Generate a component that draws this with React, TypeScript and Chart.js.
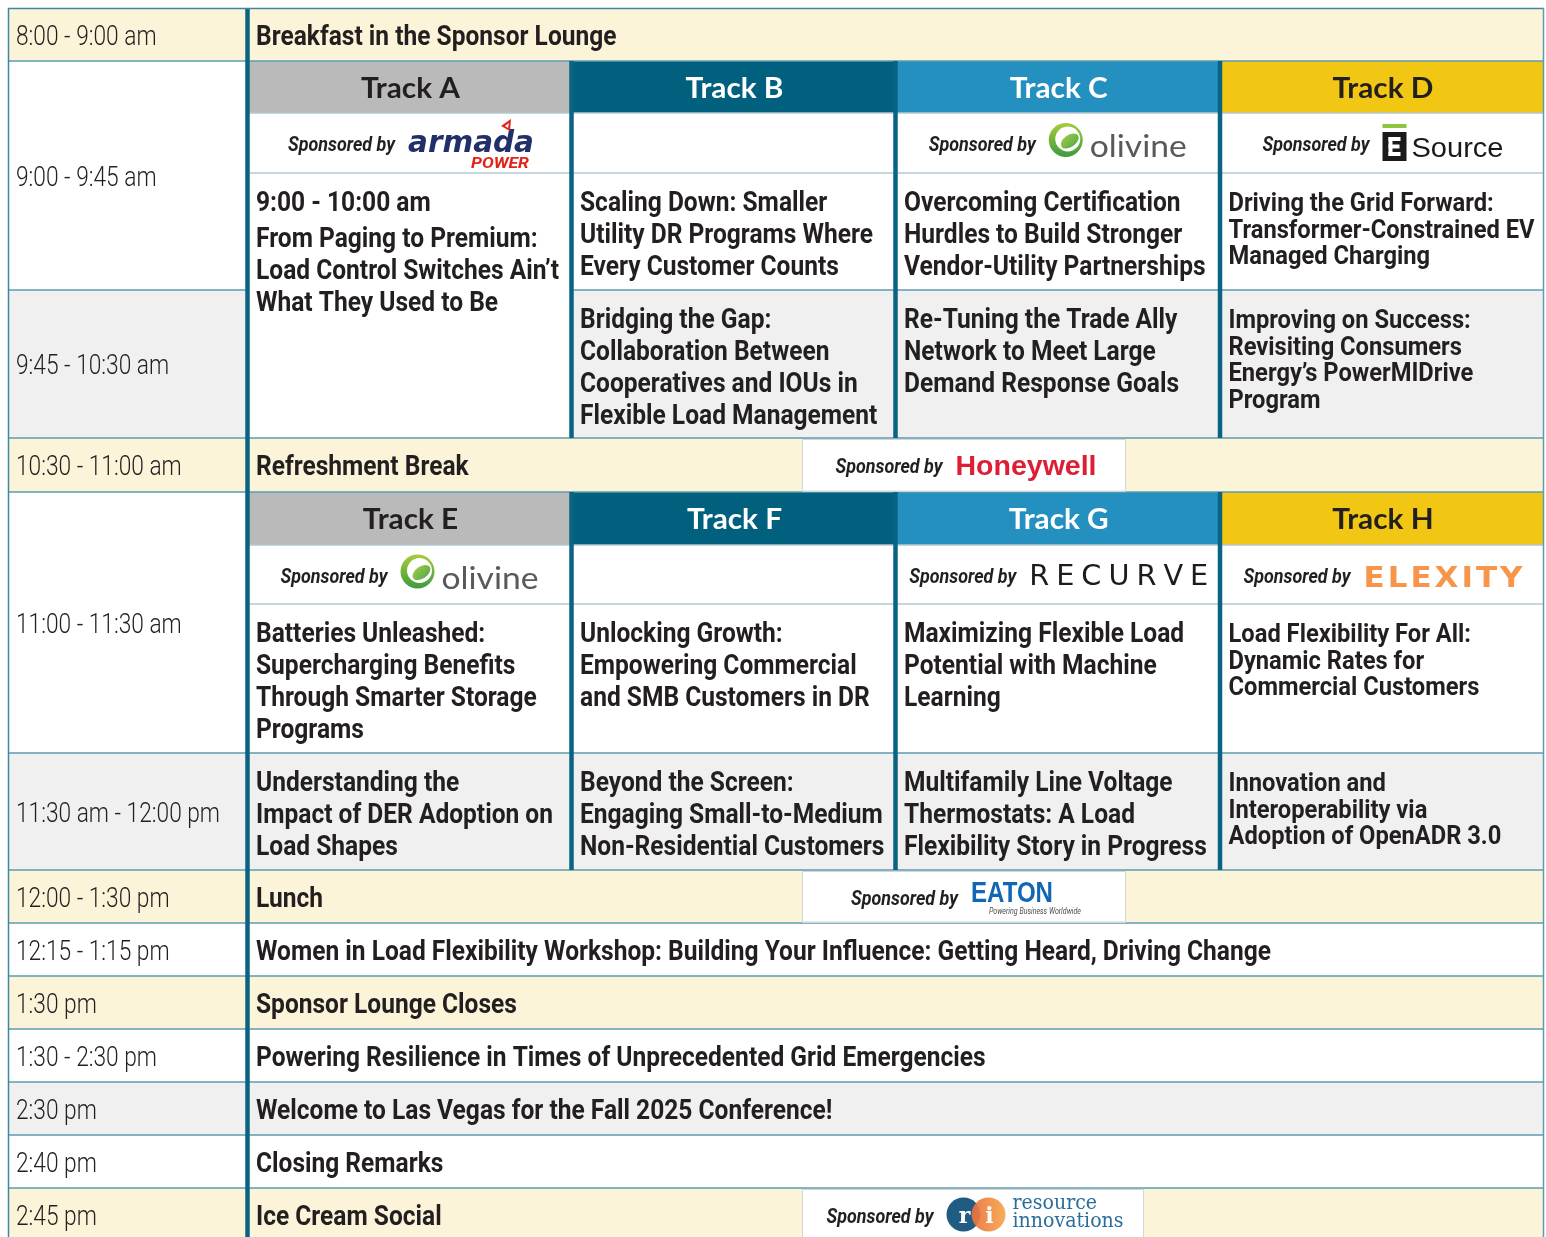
import React, { useEffect, useRef } from "react";
import { Chart, registerables } from "chart.js";
Chart.register(...registerables);

// ---------------- DATA ----------------
const timeLabels = [
  "8:00 - 9:00 am",
  "9:00 - 9:45 am",
  "9:45 - 10:30 am",
  "10:30 - 11:00 am",
  "11:00 - 11:30 am",
  "11:30 am - 12:00 pm",
  "12:00 - 1:30 pm",
  "12:15 - 1:15 pm",
  "1:30 pm",
  "1:30 - 2:30 pm",
  "2:30 pm",
  "2:40 pm",
  "2:45 pm",
];

const plenaryTitles = [
  "Breakfast in the Sponsor Lounge",
  "Refreshment Break",
  "Lunch",
  "Women in Load Flexibility Workshop: Building Your Influence: Getting Heard, Driving Change",
  "Sponsor Lounge Closes",
  "Powering Resilience in Times of Unprecedented Grid Emergencies",
  "Welcome to Las Vegas for the Fall 2025 Conference!",
  "Closing Remarks",
  "Ice Cream Social",
];
const plenarySponsors = [null, "honeywell", "eaton", null, null, null, null, null, "ri"];

const morningTracks = ["Track A", "Track B", "Track C", "Track D"];
const afternoonTracks = ["Track E", "Track F", "Track G", "Track H"];
const morningSponsors = ["armada", null, "olivine", "esource"];
const afternoonSponsors = ["olivine", null, "recurve", "elexity"];

const morningSessionTimes = ["9:00 - 10:00 am", null, null, null];
const morningSlot1 = [
  ["From Paging to Premium:", "Load Control Switches Ain\u2019t", "What They Used to Be"],
  ["Scaling Down: Smaller", "Utility DR Programs Where", "Every Customer Counts"],
  ["Overcoming Certification", "Hurdles to Build Stronger", "Vendor-Utility Partnerships"],
  ["Driving the Grid Forward:", "Transformer-Constrained EV", "Managed Charging"],
];
const morningSlot2 = [
  null,
  ["Bridging the Gap:", "Collaboration Between", "Cooperatives and IOUs in", "Flexible Load Management"],
  ["Re-Tuning the Trade Ally", "Network to Meet Large", "Demand Response Goals"],
  ["Improving on Success:", "Revisiting Consumers", "Energy\u2019s PowerMIDrive", "Program"],
];
const afternoonSessionTimes = [null, null, null, null];
const afternoonSlot1 = [
  ["Batteries Unleashed:", "Supercharging Benefits", "Through Smarter Storage", "Programs"],
  ["Unlocking Growth:", "Empowering Commercial", "and SMB Customers in DR"],
  ["Maximizing Flexible Load", "Potential with Machine", "Learning"],
  ["Load Flexibility For All:", "Dynamic Rates for", "Commercial Customers"],
];
const afternoonSlot2 = [
  ["Understanding the", "Impact of DER Adoption on", "Load Shapes"],
  ["Beyond the Screen:", "Engaging Small-to-Medium", "Non-Residential Customers"],
  ["Multifamily Line Voltage", "Thermostats: A Load", "Flexibility Story in Progress"],
  ["Innovation and", "Interoperability via", "Adoption of OpenADR 3.0"],
];

// ---------------- LAYOUT (scale units) ----------------
const ROW_EDGES = [8, 61, 113, 173, 290, 438, 492, 545, 604, 753, 870, 923, 976, 1029, 1082, 1135, 1188, 1241];
const COL_EDGES = [8, 247.5, 571.5, 895.5, 1220, 1544];
const timeSpans = [[0, 1], [1, 4], [4, 5], [5, 6], [6, 9], [9, 10], [10, 11], [11, 12], [12, 13], [13, 14], [14, 15], [15, 16], [16, 17]];
const timeFills = ["cream", "white", "gray", "cream", "white", "gray", "cream", "white", "cream", "white", "gray", "white", "cream"];
const plenaryRows = [0, 5, 10, 11, 12, 13, 14, 15, 16];
const plenaryFills = ["cream", "cream", "cream", "white", "cream", "white", "gray", "white", "cream"];
const plenaryBoxSpan: Record<string, number[]> = { honeywell: [802, 1126], eaton: [802, 1126], ri: [802, 1144] };
const trackBlocks = [
  { header: 1, names: morningTracks, sponsors: morningSponsors, times: morningSessionTimes, slot1: morningSlot1, slot2: morningSlot2 },
  { header: 6, names: afternoonTracks, sponsors: afternoonSponsors, times: afternoonSessionTimes, slot1: afternoonSlot1, slot2: afternoonSlot2 },
];
const tightColumn = [false, false, false, true];

const COLORS: Record<string, string> = {
  cream: "#fcf4d9",
  white: "#ffffff",
  gray: "#f0f0f0",
  text: "#231f20",
  thick: "#0b6384",
  line: "#5b9cb2",
  lightLine: "#b3c9d0",
  boxLine: "#d6d6d6",
};
const trackColors = ["#b9bab9", "#02607f", "#2390c0", "#f2c713"];
const trackTextColors = ["#231f20", "#ffffff", "#ffffff", "#231f20"];

type Style = { font: string; color: string; ref: string; w: number; sx?: number };
const STYLES: Record<string, Style> = {
  time: { font: "300 28px Roboto", color: COLORS.text, ref: "11:30 am - 12:00 pm", w: 204 },
  title: { font: "bold 28px Roboto", color: COLORS.text, ref: "Women in Load Flexibility Workshop: Building Your Influence: Getting Heard, Driving Change", w: 1015 },
  session: { font: "bold 28px Roboto", color: COLORS.text, ref: "Utility DR Programs Where", w: 293 },
  tight: { font: "bold 26px Roboto", color: COLORS.text, ref: "Transformer-Constrained EV", w: 306 },
  track: { font: "bold 29px Lato", color: COLORS.text, ref: "Track A", w: 99 },
  sponsored: { font: "italic bold 21px Roboto", color: COLORS.text, ref: "Sponsored by", w: 107 },
  armada: { font: "bold italic 31px 'DejaVu Sans'", color: "#22306a", ref: "armada", w: 126 },
  power: { font: "italic bold 14px Roboto", color: "#e2231a", ref: "POWER", w: 58 },
  olivine: { font: "400 30px Lato", color: "#58595b", ref: "olivine", w: 97 },
  source: { font: "400 28px 'Liberation Sans'", color: "#1a1a1a", ref: "Source", w: 92 },
  honeywell: { font: "bold 28px 'Liberation Sans'", color: "#dc1f35", ref: "Honeywell", w: 141 },
  eaton: { font: "bold 29px 'Liberation Sans'", color: "#1167b3", ref: "EATON", w: 82 },
  tagline: { font: "italic 9px Roboto", color: "#4d4d4d", ref: "Powering Business Worldwide", w: 92 },
  ri: { font: "400 21px 'DejaVu Serif'", color: "#2a6e99", ref: "innovations", w: 111 },
};
const LOGO_W: Record<string, number> = { armada: 125, olivine: 140, esource: 121, recurve: 179, elexity: 159, honeywell: 141, eaton: 110, ri: 177 };
const LOGO_GAP = 13;

// ---------------- DRAWING HELPERS ----------------
function calibrate(ctx: CanvasRenderingContext2D) {
  Object.values(STYLES).forEach((s) => {
    ctx.font = s.font;
    const m = ctx.measureText(s.ref).width;
    s.sx = m > 0 ? s.w / m : 1;
  });
}

function txt(ctx: CanvasRenderingContext2D, s: string, x: number, y: number, st: Style, align: CanvasTextAlign = "left", color?: string) {
  ctx.save();
  ctx.font = st.font;
  ctx.fillStyle = color || st.color;
  ctx.textBaseline = "alphabetic";
  ctx.textAlign = align;
  ctx.translate(x, y);
  ctx.scale(st.sx || 1, 1);
  ctx.fillText(s, 0, 0);
  ctx.restore();
}

// letters at natural advance, horizontally scaled to fill width with a fixed gap between them
function tracked(ctx: CanvasRenderingContext2D, s: string, x: number, y: number, width: number, font: string, color: string, gap: number) {
  ctx.save();
  ctx.font = font;
  ctx.fillStyle = color;
  ctx.textAlign = "left";
  ctx.textBaseline = "alphabetic";
  const ws = s.split("").map((c) => ctx.measureText(c).width);
  const total = ws.reduce((a, b) => a + b, 0);
  const sx = (width - gap * (s.length - 1)) / total;
  let cx = x;
  for (let i = 0; i < s.length; i++) {
    ctx.save();
    ctx.translate(cx, y);
    ctx.scale(sx, 1);
    ctx.fillText(s[i], 0, 0);
    ctx.restore();
    cx += ws[i] * sx + gap;
  }
  ctx.restore();
}

function drawLogo(ctx: CanvasRenderingContext2D, key: string, x: number, cy: number) {
  if (key === "armada") {
    txt(ctx, "armada", x, cy + 9, STYLES.armada);
    txt(ctx, "POWER", x + 121, cy + 25, STYLES.power, "right");
    ctx.fillStyle = "#e2231a";
    ctx.beginPath();
    ctx.moveTo(x + 93, cy - 17);
    ctx.lineTo(x + 103, cy - 24);
    ctx.lineTo(x + 102, cy - 12);
    ctx.closePath();
    ctx.fill();
    ctx.fillStyle = "#ffffff";
    ctx.beginPath();
    ctx.moveTo(x + 97, cy - 17);
    ctx.lineTo(x + 101, cy - 20);
    ctx.lineTo(x + 100, cy - 15);
    ctx.closePath();
    ctx.fill();
  } else if (key === "olivine") {
    const cx = x + 17, cyy = cy - 3, r = 17;
    const g = ctx.createLinearGradient(cx, cyy - r, cx, cyy + r);
    g.addColorStop(0, "#a5cd3a");
    g.addColorStop(1, "#3f9a3f");
    ctx.fillStyle = g;
    ctx.beginPath();
    ctx.arc(cx, cyy, r, 0, Math.PI * 2);
    ctx.fill();
    ctx.fillStyle = "#ffffff";
    ctx.beginPath();
    ctx.arc(cx + 2, cyy - 1, 12.5, 0, Math.PI * 2);
    ctx.fill();
    const g2 = ctx.createLinearGradient(cx - 8, cyy - 8, cx + 10, cyy + 10);
    g2.addColorStop(0, "#b7d84a");
    g2.addColorStop(1, "#4ea545");
    ctx.fillStyle = g2;
    ctx.beginPath();
    ctx.ellipse(cx + 4, cyy + 1, 10, 6, -0.6, 0, Math.PI * 2);
    ctx.fill();
    txt(ctx, "olivine", x + 41, cy + 14, STYLES.olivine);
  } else if (key === "esource") {
    ctx.fillStyle = "#8cc63f";
    ctx.fillRect(x, cy - 19, 24, 4);
    ctx.fillStyle = "#1a1a1a";
    ctx.fillRect(x, cy - 11, 24, 29);
    ctx.fillStyle = "#ffffff";
    ctx.fillRect(x + 6, cy - 6, 4, 19);
    ctx.fillRect(x + 6, cy - 6, 12, 4);
    ctx.fillRect(x + 6, cy + 1.5, 11, 4);
    ctx.fillRect(x + 6, cy + 9, 12, 4);
    txt(ctx, "Source", x + 29, cy + 14, STYLES.source);
  } else if (key === "recurve") {
    tracked(ctx, "RECURVE", x, cy + 10.5, 179, "400 28px 'DejaVu Sans'", "#1c1c1c", 7);
  } else if (key === "elexity") {
    tracked(ctx, "ELEXITY", x, cy + 12.5, 159, "bold 29px 'DejaVu Sans'", "#f7964a", 3);
  } else if (key === "honeywell") {
    txt(ctx, "Honeywell", x, cy + 10, STYLES.honeywell);
  } else if (key === "eaton") {
    txt(ctx, "EATON", x, cy + 5.5, STYLES.eaton);
    txt(ctx, "Powering Business Worldwide", x + 18, cy + 17, STYLES.tagline);
  } else if (key === "ri") {
    ctx.fillStyle = "#1f5b83";
    ctx.beginPath();
    ctx.arc(x + 17, cy, 17, 0, Math.PI * 2);
    ctx.fill();
    const g = ctx.createLinearGradient(x + 25, cy, x + 59, cy);
    g.addColorStop(0, "#e9703d");
    g.addColorStop(1, "#f6a64a");
    ctx.save();
    ctx.globalAlpha = 0.92;
    ctx.fillStyle = g;
    ctx.beginPath();
    ctx.arc(x + 42, cy, 17, 0, Math.PI * 2);
    ctx.fill();
    ctx.restore();
    ctx.save();
    ctx.font = "bold 22px 'DejaVu Serif'";
    ctx.fillStyle = "#ffffff";
    ctx.textAlign = "center";
    ctx.fillText("r", x + 18, cy + 8);
    ctx.fillText("i", x + 43, cy + 8);
    ctx.restore();
    txt(ctx, "resource", x + 66, cy - 6, STYLES.ri);
    txt(ctx, "innovations", x + 66, cy + 12, STYLES.ri);
  }
}

function drawSponsorGroup(ctx: CanvasRenderingContext2D, key: string, cx: number, cy: number) {
  const total = STYLES.sponsored.w + LOGO_GAP + LOGO_W[key];
  const x0 = cx - total / 2;
  txt(ctx, "Sponsored by", x0, cy + 8, STYLES.sponsored);
  drawLogo(ctx, key, x0 + STYLES.sponsored.w + LOGO_GAP, cy);
}

// ---------------- PLUGIN ----------------
const schedulePlugin = {
  id: "schedule",
  afterDraw(chart: any) {
    const { ctx, scales } = chart;
    const X = (v: number) => scales.x.getPixelForValue(v);
    const Y = (v: number) => scales.y.getPixelForValue(v);
    const R = (i: number) => ROW_EDGES[i];
    const rect = (x0: number, y0: number, x1: number, y1: number, fill: string) => {
      ctx.fillStyle = fill;
      ctx.fillRect(X(x0), Y(y0), X(x1) - X(x0), Y(y1) - Y(y0));
    };
    const hline = (x0: number, x1: number, y: number, color: string, w: number) => {
      ctx.strokeStyle = color;
      ctx.lineWidth = w;
      ctx.beginPath();
      ctx.moveTo(X(x0), Y(y));
      ctx.lineTo(X(x1), Y(y));
      ctx.stroke();
    };
    const vline = (x: number, y0: number, y1: number, color: string, w: number) => {
      ctx.strokeStyle = color;
      ctx.lineWidth = w;
      ctx.beginPath();
      ctx.moveTo(X(x), Y(y0));
      ctx.lineTo(X(x), Y(y1));
      ctx.stroke();
    };

    ctx.save();
    calibrate(ctx);

    // backgrounds
    timeSpans.forEach((sp, i) => rect(COL_EDGES[0], R(sp[0]), COL_EDGES[1], R(sp[1]), COLORS[timeFills[i]]));
    plenaryRows.forEach((r, i) => rect(COL_EDGES[1], R(r), COL_EDGES[5], R(r + 1), COLORS[plenaryFills[i]]));
    trackBlocks.forEach((b) => {
      const h = b.header;
      for (let t = 0; t < 4; t++) {
        const x0 = COL_EDGES[t + 1], x1 = COL_EDGES[t + 2];
        rect(x0, R(h), x1, R(h + 1), trackColors[t]);
        rect(x0, R(h + 1), x1, R(h + 2), COLORS.white);
        if (b.slot2[t] === null) {
          rect(x0, R(h + 2), x1, R(h + 4), COLORS.white);
        } else {
          rect(x0, R(h + 2), x1, R(h + 3), COLORS.white);
          rect(x0, R(h + 3), x1, R(h + 4), COLORS.gray);
        }
      }
    });

    // horizontal lines
    const timeEdges = new Set<number>();
    timeSpans.forEach((sp) => { timeEdges.add(sp[0]); timeEdges.add(sp[1]); });
    for (let i = 1; i < ROW_EDGES.length - 1; i++) {
      const y = R(i);
      const block = trackBlocks.find((b) => i === b.header + 1 || i === b.header + 2 || i === b.header + 3);
      const isSponsorEdge = block && (i === block.header + 1 || i === block.header + 2);
      const color = isSponsorEdge ? COLORS.lightLine : COLORS.line;
      if (timeEdges.has(i)) hline(COL_EDGES[0], COL_EDGES[1], y, COLORS.line, 1.6);
      if (block && i === block.header + 3) {
        for (let t = 0; t < 4; t++) {
          if (block.slot2[t] !== null) hline(COL_EDGES[t + 1], COL_EDGES[t + 2], y, COLORS.line, 1.6);
        }
      } else {
        hline(COL_EDGES[1], COL_EDGES[5], y, color, 1.6);
      }
    }

    // plenary sponsor boxes
    plenaryRows.forEach((r, i) => {
      const key = plenarySponsors[i];
      if (!key) return;
      const [bx0, bx1] = plenaryBoxSpan[key];
      rect(bx0, R(r) + 1, bx1, R(r + 1) - 0.5, COLORS.white);
      ctx.strokeStyle = COLORS.boxLine;
      ctx.lineWidth = 1;
      ctx.strokeRect(X(bx0) + 0.5, Y(R(r) + 1) + 0.5, X(bx1) - X(bx0) - 1, Y(R(r + 1) - 0.5) - Y(R(r) + 1) - 1);
    });

    // thick vertical lines
    vline(COL_EDGES[1], ROW_EDGES[0], ROW_EDGES[ROW_EDGES.length - 1], COLORS.thick, 4.5);
    trackBlocks.forEach((b) => {
      for (let t = 2; t <= 4; t++) vline(COL_EDGES[t], R(b.header), R(b.header + 4), COLORS.thick, 4.5);
    });

    // outer border
    hline(COL_EDGES[0], COL_EDGES[5], ROW_EDGES[0] + 0.5, "#3d87a3", 1.5);
    vline(COL_EDGES[0] + 0.5, ROW_EDGES[0], ROW_EDGES[ROW_EDGES.length - 1], "#3d87a3", 1.5);
    vline(COL_EDGES[5] - 0.5, ROW_EDGES[0], ROW_EDGES[ROW_EDGES.length - 1], "#5c9cb2", 1.5);

    // time labels
    timeSpans.forEach((sp, i) => {
      const cy = (Y(R(sp[0])) + Y(R(sp[1]))) / 2;
      txt(ctx, timeLabels[i], X(COL_EDGES[0]) + 8, cy + 10, STYLES.time);
    });

    // plenary titles + sponsors
    plenaryRows.forEach((r, i) => {
      const cy = (Y(R(r)) + Y(R(r + 1))) / 2;
      txt(ctx, plenaryTitles[i], X(COL_EDGES[1]) + 8.5, cy + 10, STYLES.title);
      const key = plenarySponsors[i];
      if (key) {
        const [bx0, bx1] = plenaryBoxSpan[key];
        drawSponsorGroup(ctx, key, (X(bx0) + X(bx1)) / 2 + 2, cy);
      }
    });

    // tracks
    trackBlocks.forEach((b) => {
      const h = b.header;
      for (let t = 0; t < 4; t++) {
        const x0 = X(COL_EDGES[t + 1]), x1 = X(COL_EDGES[t + 2]);
        const cx = (x0 + x1) / 2;
        const hcy = (Y(R(h)) + Y(R(h + 1))) / 2;
        txt(ctx, b.names[t], cx + 1, hcy + 10.5, STYLES.track, "center", trackTextColors[t]);
        const sp = b.sponsors[t];
        if (sp) {
          const scy = (Y(R(h + 1)) + Y(R(h + 2))) / 2;
          drawSponsorGroup(ctx, sp, cx + 1, scy);
        }
        const st = tightColumn[t] ? STYLES.tight : STYLES.session;
        const gap = tightColumn[t] ? 26.7 : 32;
        const tx = x0 + 8.5;
        [b.slot1[t], b.slot2[t]].forEach((lines, k) => {
          if (!lines) return;
          let y = Y(R(h + 2 + k)) + 38;
          const tm = k === 0 ? b.times[t] : null;
          if (tm) {
            txt(ctx, tm, tx, y, st);
            y += gap + 4;
          }
          lines.forEach((ln) => {
            txt(ctx, ln, tx, y, st);
            y += gap;
          });
        });
      }
    });

    ctx.restore();
  },
};

export default function App() {
  const ref = useRef<HTMLCanvasElement>(null);
  useEffect(() => {
    const canvas = ref.current;
    if (!canvas) return;
    const chart = new Chart(canvas, {
      type: "scatter",
      data: { datasets: [{ data: [], pointRadius: 0 }] },
      options: {
        animation: false,
        responsive: false,
        devicePixelRatio: 1,
        events: [],
        layout: { padding: 0 },
        plugins: { legend: { display: false }, tooltip: { enabled: false } },
        scales: {
          x: { type: "linear", min: 0, max: 1546, display: false },
          y: { type: "linear", min: 0, max: 1237, reverse: true, display: false },
        },
      },
      plugins: [schedulePlugin],
    } as any);
    return () => chart.destroy();
  }, []);
  return (
    <div style={{ position: "absolute", left: 0, top: 0, width: 1546, height: 1237, overflow: "hidden" }}>
      <canvas ref={ref} width={1546} height={1237} style={{ display: "block", width: 1546, height: 1237 }} />
    </div>
  );
}
